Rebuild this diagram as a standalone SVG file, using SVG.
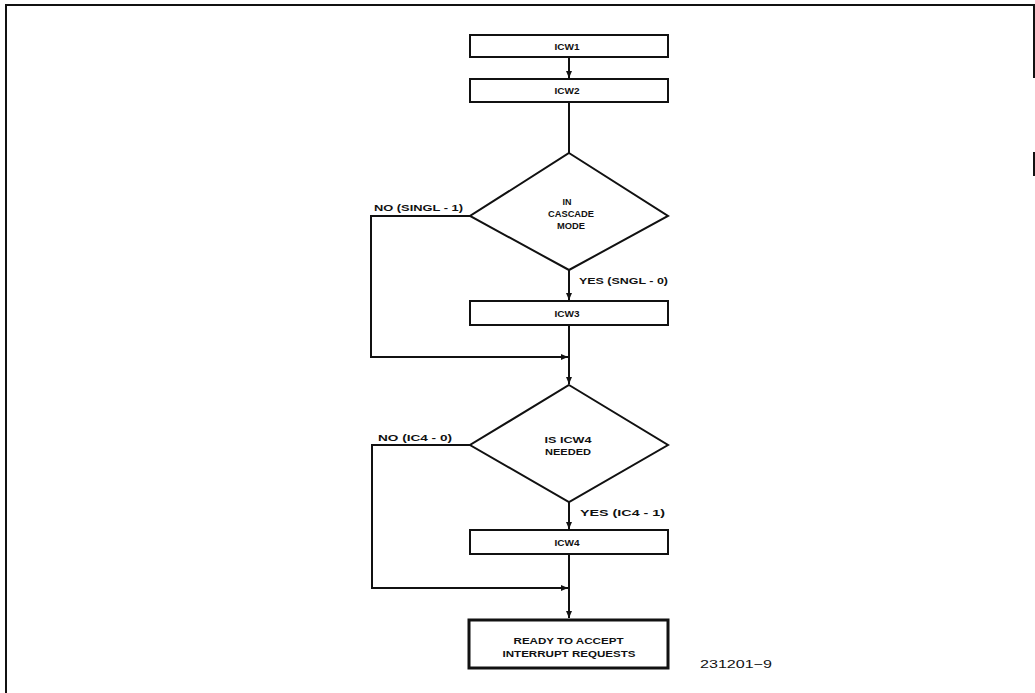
<svg xmlns="http://www.w3.org/2000/svg" width="1035" height="693" viewBox="0 0 1035 693">
<style>
.box{fill:#fff;stroke:#111;stroke-width:2}
.thick{fill:#fff;stroke:#111;stroke-width:3}
.ln{fill:none;stroke:#111;stroke-width:2}
.t{font-family:"Liberation Sans",Arial,sans-serif;font-weight:bold;font-size:9px;fill:#111;text-anchor:middle}
.lbl{font-family:"Liberation Sans",Arial,sans-serif;font-weight:bold;font-size:9px;fill:#111}
.id{font-family:"Liberation Sans",Arial,sans-serif;font-size:11.5px;fill:#111}
</style>
<defs>
<marker id="ah" markerWidth="8" markerHeight="8" refX="7" refY="4" orient="auto" markerUnits="userSpaceOnUse">
<path d="M0,1 L7,4 L0,7 Z" fill="#111"/>
</marker>
</defs>
<rect width="1035" height="693" fill="#fff"/>
<g id="frame" class="ln">
<line x1="5" y1="5" x2="1034" y2="5"/>
<line x1="6" y1="4" x2="6" y2="693"/>
<line x1="1034" y1="4" x2="1034" y2="78"/>
<line x1="1034" y1="152" x2="1034" y2="176"/>
</g>
<g id="connectors" class="ln">
<line x1="569" y1="57" x2="569" y2="78" marker-end="url(#ah)"/>
<line x1="569" y1="102" x2="569" y2="153"/>
<line x1="569" y1="270" x2="569" y2="300" marker-end="url(#ah)"/>
<line x1="569" y1="325" x2="569" y2="384" marker-end="url(#ah)"/>
<polyline points="470,216 371,216 371,357 568,357" marker-end="url(#ah)"/>
<line x1="569" y1="502" x2="569" y2="529" marker-end="url(#ah)"/>
<line x1="569" y1="554" x2="569" y2="618" marker-end="url(#ah)"/>
<polyline points="470,445 372,445 372,588 568,588" marker-end="url(#ah)"/>
</g>
<g id="icw1"><rect class="box" x="470" y="35" width="198" height="22"/><text class="t" x="567" y="49.5" textLength="25" lengthAdjust="spacingAndGlyphs">ICW1</text></g>
<g id="icw2"><rect class="box" x="470" y="79" width="198" height="23"/><text class="t" x="567" y="94" textLength="25" lengthAdjust="spacingAndGlyphs">ICW2</text></g>
<g id="cascade"><polygon class="box" points="569,153 668,216 569,270 470,216"/>
<text class="t" x="567" y="205" textLength="9" lengthAdjust="spacingAndGlyphs">IN</text>
<text class="t" x="571" y="217" textLength="46" lengthAdjust="spacingAndGlyphs">CASCADE</text>
<text class="t" x="571" y="229" textLength="28" lengthAdjust="spacingAndGlyphs">MODE</text></g>
<g id="lbl1"><text class="lbl" x="374" y="211" textLength="89" lengthAdjust="spacingAndGlyphs">NO (SINGL - 1)</text></g>
<g id="lbl2"><text class="lbl" x="579" y="284" textLength="89" lengthAdjust="spacingAndGlyphs">YES (SNGL - 0)</text></g>
<g id="icw3"><rect class="box" x="470" y="301" width="198" height="24"/><text class="t" x="567" y="316.5" textLength="25" lengthAdjust="spacingAndGlyphs">ICW3</text></g>
<g id="needed"><polygon class="box" points="569,385 668,445 569,502 470,445"/>
<text class="t" x="568" y="443" textLength="47" lengthAdjust="spacingAndGlyphs">IS ICW4</text>
<text class="t" x="568" y="455" textLength="46" lengthAdjust="spacingAndGlyphs">NEEDED</text></g>
<g id="lbl3"><text class="lbl" x="378" y="441" textLength="74" lengthAdjust="spacingAndGlyphs">NO (IC4 - 0)</text></g>
<g id="lbl4"><text class="lbl" x="580" y="516" textLength="85" lengthAdjust="spacingAndGlyphs">YES (IC4 - 1)</text></g>
<g id="icw4"><rect class="box" x="470" y="530" width="198" height="24"/><text class="t" x="567" y="545.5" textLength="25" lengthAdjust="spacingAndGlyphs">ICW4</text></g>
<g id="ready"><rect class="thick" x="469" y="620" width="199" height="48"/>
<text class="t" x="568.5" y="644" textLength="110" lengthAdjust="spacingAndGlyphs">READY TO ACCEPT</text>
<text class="t" x="569" y="657" textLength="133" lengthAdjust="spacingAndGlyphs">INTERRUPT REQUESTS</text></g>
<g id="figid"><text class="id" x="700" y="668" textLength="72" lengthAdjust="spacingAndGlyphs">231201−9</text></g>
</svg>
